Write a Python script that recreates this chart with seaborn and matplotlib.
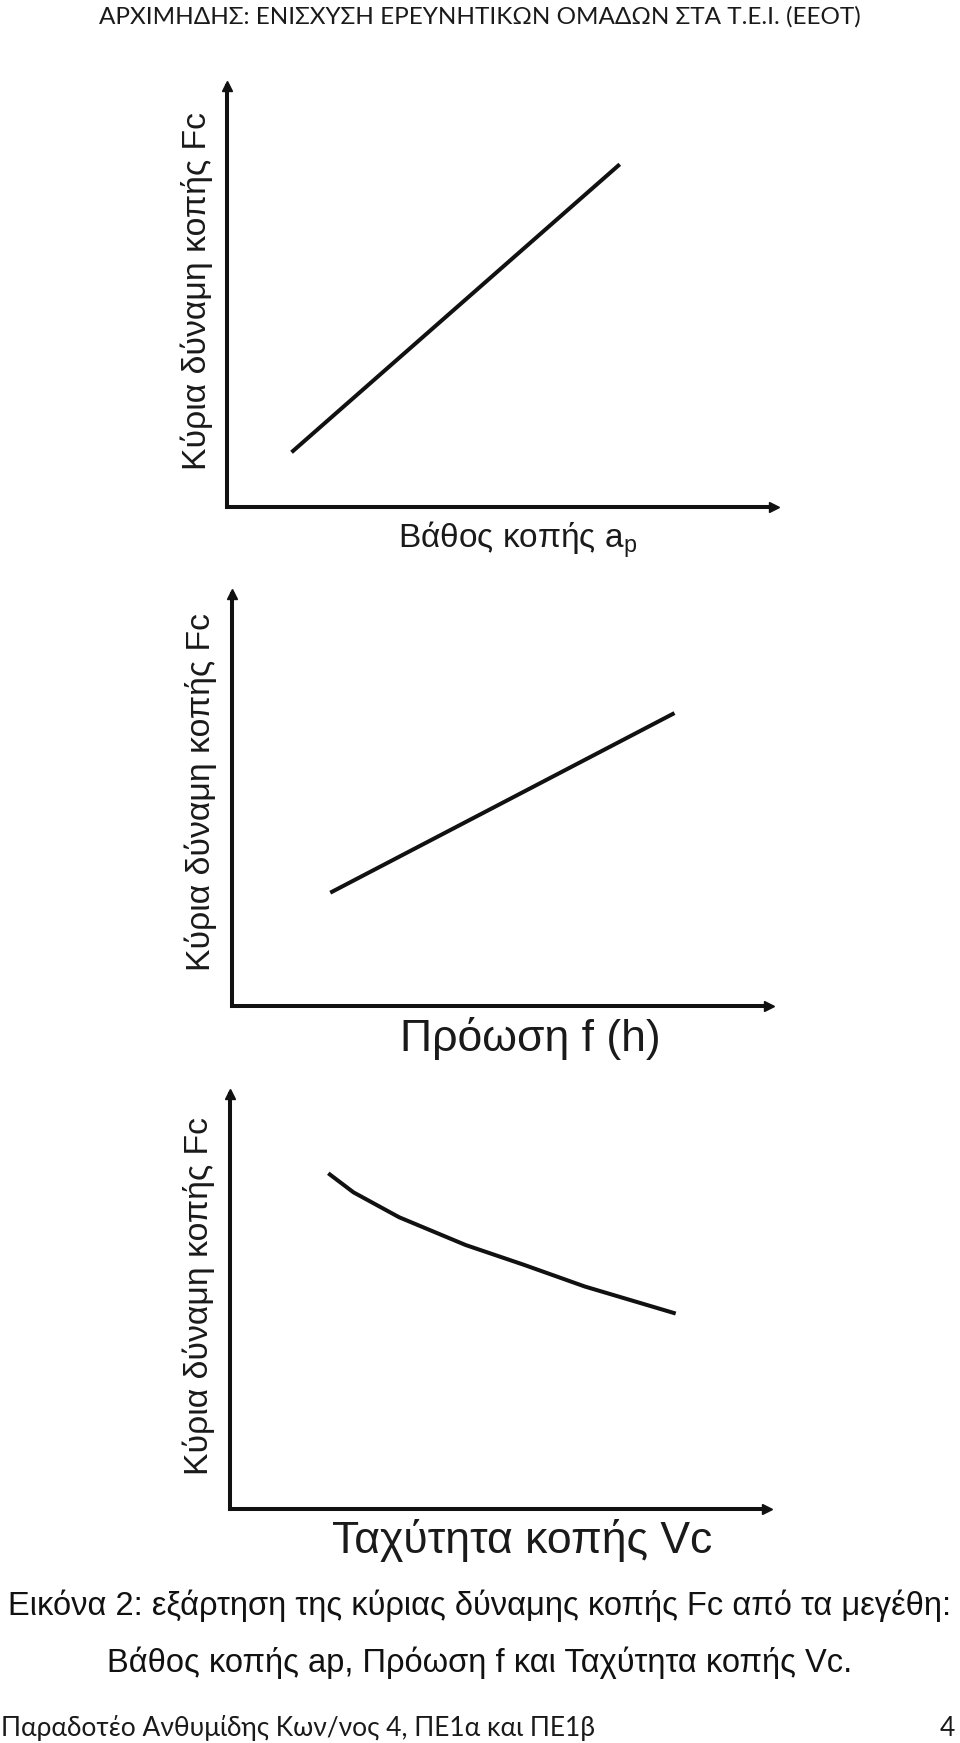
"""
Cutting force Fc sketches vs depth of cut, feed and cutting speed
(three qualitative panels, page layout with header / caption / footer).
"""

import numpy as np
import pandas as pd
import matplotlib.pyplot as plt
import seaborn as sns

W, H = 960, 1743   # output size in px (dpi 100)

# ── Data (qualitative on a 0-100 scale) ────────────────────────────────────
DEPTH_AP = [11.8, 71.8]
FORCE_AP = [13.0, 81.4]

FEED_F = [18.3, 82.4]
FORCE_F = [27.5, 71.1]

SPEED_VC = [18.3, 23.0, 31.5, 43.9, 54.6, 66.1, 83.0]
FORCE_VC = [80.9, 76.3, 70.3, 63.6, 58.9, 53.6, 47.1]

HEADER = "ΑΡΧΙΜΗΔΗΣ: ΕΝΙΣΧΥΣΗ ΕΡΕΥΝΗΤΙΚΩΝ ΟΜΑΔΩΝ ΣΤΑ Τ.Ε.Ι. (ΕΕΟΤ)"
YLABEL = "Κύρια δύναμη κοπής Fc"
XLABELS = [r"Βάθος κοπής a$_\mathregular{p}$", "Πρόωση f (h)", "Ταχύτητα κοπής Vc"]
CAPTION = ["Εικόνα 2: εξάρτηση της κύριας δύναμης κοπής Fc από τα μεγέθη:",
           "Βάθος κοπής ap, Πρόωση f και Ταχύτητα κοπής Vc."]
FOOTER = "Παραδοτέο Ανθυμίδης Κων/νος 4, ΠΕ1α και ΠΕ1β"
PAGE = "4"

# ── Style ──────────────────────────────────────────────────────────────────
sns.set_theme(style="white")
plt.rcParams["font.family"] = ["Liberation Sans", "DejaVu Sans"]

INK = "#111111"
AXIS_LW = 2.9
LINE_LW = 2.9
HEAD = ["Lato", "DejaVu Sans"]


def fig_text(fig, x, y, s, **kw):
    fig.text(x / W, 1 - y / H, s, **kw)


def panel(fig, box, x, y, xlabel, xlabel_pos, ylabel_pos, xfs):
    ox, oy, tx, ty = box
    ax = fig.add_axes([ox / W, 1 - oy / H, (tx - ox) / W, (oy - ty) / H])
    df = pd.DataFrame({"x": x, "y": y})
    sns.lineplot(data=df, x="x", y="y", ax=ax, color=INK, lw=LINE_LW,
                 solid_capstyle="butt")
    ax.set_xlim(0, 100)
    ax.set_ylim(0, 100)
    ax.set_xticks([])
    ax.set_yticks([])
    for side in ("top", "right"):
        ax.spines[side].set_visible(False)
    for side in ("left", "bottom"):
        ax.spines[side].set_linewidth(AXIS_LW)
        ax.spines[side].set_color(INK)
    ax.patch.set_alpha(0)
    # arrow heads at the axis ends
    ax.plot(1, 0, ">", color=INK, ms=7, transform=ax.get_yaxis_transform(),
            clip_on=False)
    ax.plot(0, 1, "^", color=INK, ms=7, transform=ax.get_xaxis_transform(),
            clip_on=False)

    ax.set_xlabel(xlabel, fontsize=xfs, color="#1a1a1a", va="center")
    ax.xaxis.set_label_coords((xlabel_pos[0] - ox) / (tx - ox),
                              (oy - xlabel_pos[1]) / (oy - ty))
    ax.set_ylabel(YLABEL, fontsize=24.3, color="#1a1a1a", va="center")
    ax.yaxis.set_label_coords((ylabel_pos[0] - ox) / (tx - ox),
                              (oy - ylabel_pos[1]) / (oy - ty))
    return ax


fig = plt.figure(figsize=(W / 100, H / 100), dpi=100)
fig.patch.set_facecolor("white")

panel(fig, (227, 507, 774, 86), DEPTH_AP, FORCE_AP, XLABELS[0],
      (518, 540), (197, 291), 24)
panel(fig, (232, 1006, 769, 594), FEED_F, FORCE_F, XLABELS[1],
      (530, 1038), (201, 792), 32)
panel(fig, (230, 1509, 767, 1094), SPEED_VC, FORCE_VC, XLABELS[2],
      (522, 1540), (199, 1296), 32)

fig_text(fig, 480, 17, HEADER, ha="center", va="center", fontsize=17.5,
         family=HEAD, color="#1a1a1a")
fig_text(fig, 480, 1606, CAPTION[0], ha="center", va="center", fontsize=23.5,
         color="#111111")
fig_text(fig, 480, 1663, CAPTION[1], ha="center", va="center", fontsize=23.5,
         color="#111111")
fig_text(fig, 1, 1728, FOOTER, ha="left", va="center", fontsize=19,
         family=HEAD, color="#1a1a1a")
fig_text(fig, 955, 1728, PAGE, ha="right", va="center", fontsize=19,
         family=HEAD, color="#1a1a1a")

fig.savefig("out.png", dpi=100, facecolor="white")
plt.close(fig)
